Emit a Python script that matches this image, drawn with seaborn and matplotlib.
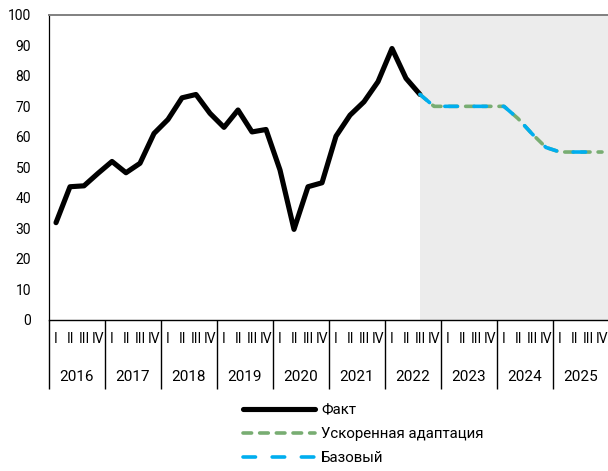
import numpy as np
import pandas as pd
import matplotlib
matplotlib.use("Agg")
import matplotlib.pyplot as plt
import seaborn as sns

# quarterly index, 2016Q1 .. 2025Q4
years = [str(y) for y in range(2016, 2026)]
quarters = ["I", "II", "III", "IV"]

fact = [31.8, 43.6, 43.9, 48.0,
        51.9, 48.2, 51.3, 61.1,
        65.7, 72.8, 73.9, 67.7,
        63.1, 68.8, 61.6, 62.4,
        49.1, 29.6, 43.6, 44.9,
        60.2, 67.1, 71.5, 78.1,
        89.0, 79.2, 73.9]

# forecasts start at 2022 Q3
forecast_start = 26
fast_adapt = [73.9, 70, 70, 70, 70, 70, 70, 66, 61, 56.5, 55, 55, 55, 55]
base = [73.9, 70, 70, 70, 70, 70, 70, 66, 61, 56.5, 55, 55, 55, 55]

labels = ["Факт", "Ускоренная адаптация", "Базовый"]

sns.set_style("white")
plt.rcParams["font.family"] = ["Roboto", "DejaVu Sans"]
plt.rcParams["lines.scale_dashes"] = False
plt.rcParams["text.color"] = "black"
plt.rcParams["xtick.color"] = "black"
plt.rcParams["ytick.color"] = "black"

fig = plt.figure(figsize=(6.08, 4.71), dpi=100)
ax = fig.add_axes([49 / 608, 1 - 319.5 / 471, 560 / 608, 304.5 / 471])

ax.axvspan(forecast_start, 39.5, color="#ececec", lw=0, zorder=0)

x_fact = np.arange(len(fact))
x_fc = np.arange(forecast_start, forecast_start + len(base))

sns.lineplot(x=x_fact, y=fact, color="black", linewidth=3.7, ax=ax,
             solid_capstyle="round", solid_joinstyle="round", zorder=3)
sns.lineplot(x=x_fc, y=fast_adapt, color="#78ad72", linewidth=2.6, ax=ax,
             dash_capstyle="round", zorder=4)
ax.lines[-1].set_dashes([6.2, 5.8])
sns.lineplot(x=x_fc, y=base, color="#00aeef", linewidth=2.6, ax=ax,
             dash_capstyle="round", zorder=5)
ax.lines[-1].set_dashes([9.0, 12.0])

ax.set_xlim(-0.5, 39.5)
ax.set_ylim(0, 100)
ax.set_yticks(range(0, 101, 10))
ax.tick_params(axis="y", length=0, pad=13, labelsize=10)

ax.set_xticks(range(40))
ax.set_xticklabels(quarters * len(years), fontsize=10)
ax.set_xticks(np.arange(-0.5, 40, 4), minor=True)
ax.tick_params(axis="x", which="major", length=0, pad=9)
ax.tick_params(axis="x", which="minor", bottom=True, length=49.5, width=1,
               color="black", direction="out")

for i, yr in enumerate(years):
    ax.text(i * 4 + 1.5, -0.189, yr, transform=ax.get_xaxis_transform(),
            ha="center", va="center", fontsize=11)

ax.spines["right"].set_visible(False)
ax.spines["top"].set_color("#808080")
ax.spines["top"].set_linewidth(1.4)
ax.spines["left"].set_color("black")
ax.spines["left"].set_linewidth(0.9)
ax.spines["bottom"].set_color("black")
ax.spines["bottom"].set_linewidth(1.0)

handles = ax.get_lines()[:3]
leg = ax.legend(handles, labels, loc="upper left",
                bbox_to_anchor=(243 / 608, 1 - 403 / 471),
                bbox_transform=fig.transFigure, frameon=False,
                fontsize=10.8, handlelength=4.8, handletextpad=0.4,
                labelspacing=0.68, borderpad=0, borderaxespad=0)

fig.savefig("out.png", dpi=100)
